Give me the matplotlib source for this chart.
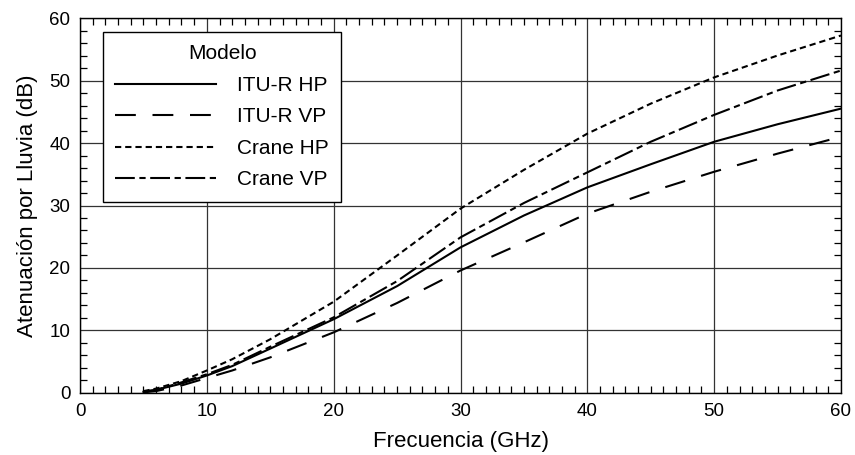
import matplotlib
matplotlib.use("Agg")
import matplotlib.pyplot as plt
from matplotlib.ticker import MultipleLocator

plt.rcParams['font.family'] = ['Liberation Sans', 'DejaVu Sans']

freq = [5, 6, 8, 10, 12, 15, 20, 25, 30, 35, 40, 45, 50, 55, 60]
itu_hp = [0.2, 0.5, 1.5, 2.8, 4.3, 7.1, 11.8, 17.1, 23.3, 28.4, 32.9, 36.6, 40.2, 43.0, 45.5]
itu_vp = [0.1, 0.3, 1.2, 2.4, 3.6, 5.7, 9.7, 14.4, 19.6, 24.1, 28.7, 32.2, 35.4, 38.3, 41.0]
crane_hp = [0.3, 0.7, 1.9, 3.6, 5.4, 8.6, 14.6, 22.0, 29.5, 35.7, 41.5, 46.3, 50.5, 54.0, 57.2]
crane_vp = [0.2, 0.5, 1.7, 3.0, 4.5, 7.4, 12.1, 17.9, 24.9, 30.4, 35.3, 40.2, 44.5, 48.4, 51.6]
labels = ["ITU-R HP", "ITU-R VP", "Crane HP", "Crane VP"]

fig = plt.figure(figsize=(8.55, 4.55), dpi=100)
ax = fig.add_axes([0.0936, 0.1363, 0.89, 0.8241])

lw = 1.5
ax.plot(freq, itu_hp, color='black', lw=lw, linestyle='-', label=labels[0])
ax.plot(freq, itu_vp, color='black', lw=lw, linestyle=(0, (10, 8)), label=labels[1])
ax.plot(freq, crane_hp, color='black', lw=lw, linestyle=(0, (3, 1.9)), label=labels[2])
ax.plot(freq, crane_vp, color='black', lw=lw, linestyle=(0, (9.5, 2.2, 3, 2.2)), label=labels[3])

ax.set_xlim(0, 60)
ax.set_ylim(0, 60)
ax.xaxis.set_major_locator(MultipleLocator(10))
ax.yaxis.set_major_locator(MultipleLocator(10))
ax.xaxis.set_minor_locator(MultipleLocator(1))
ax.yaxis.set_minor_locator(MultipleLocator(2))
ax.tick_params(which='both', direction='in', top=True, right=True, labelsize=13.5, colors='black')
ax.tick_params(which='major', length=0, pad=7)
ax.tick_params(which='minor', length=5, width=0.9)
ax.grid(True, which='major', color='#333333', lw=0.9)
for s in ax.spines.values():
    s.set_linewidth(1.0)

ax.set_xlabel("Frecuencia (GHz)", fontsize=16, labelpad=8)
ax.set_ylabel("Atenuación por Lluvia (dB)", fontsize=16, labelpad=8)

leg = ax.legend(title="Modelo", loc='upper left', bbox_to_anchor=(0.030, 0.963),
                fontsize=15, title_fontsize=15, handlelength=4.85,
                frameon=True, fancybox=False, edgecolor='black', framealpha=1,
                borderpad=0.6, labelspacing=0.6, handletextpad=1.0, borderaxespad=0)
leg.get_frame().set_linewidth(1.0)

fig.savefig("out.png", dpi=100)
